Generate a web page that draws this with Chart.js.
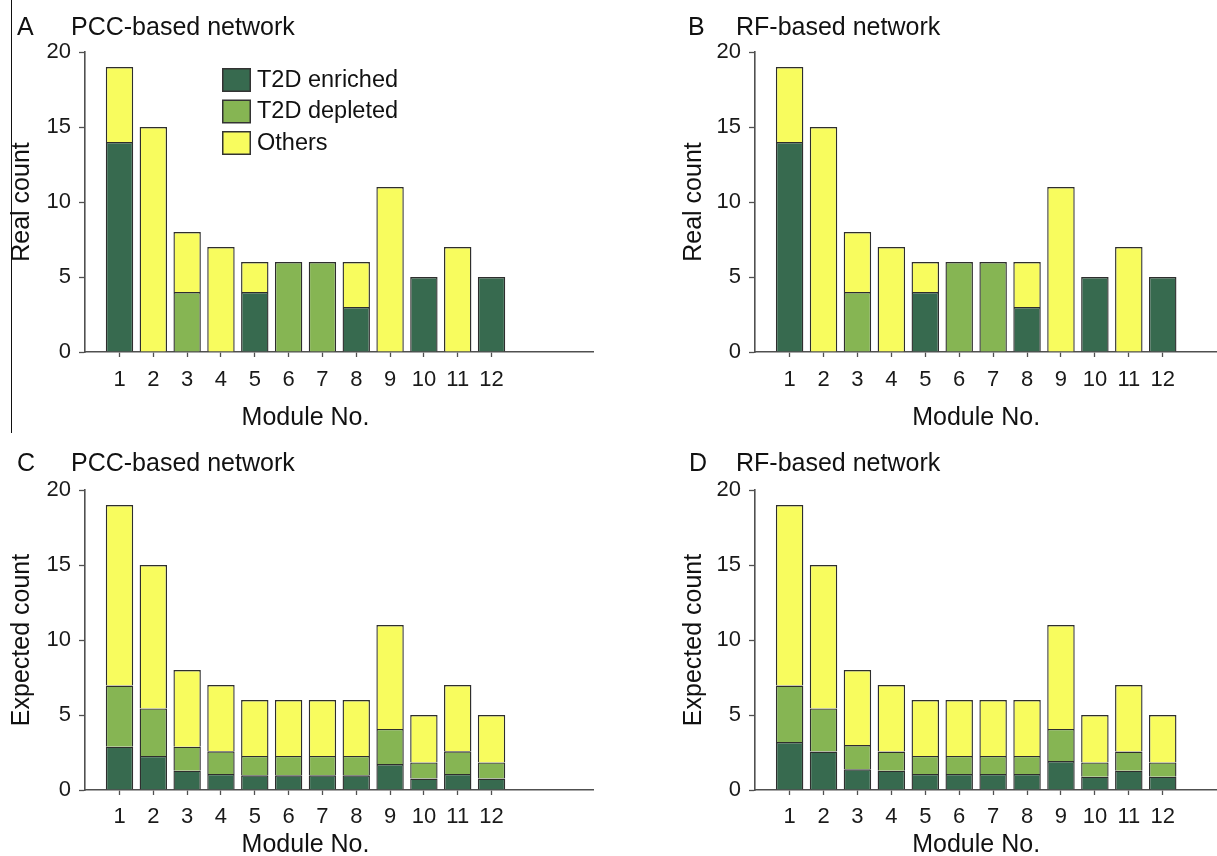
<!DOCTYPE html>
<html>
<head>
<meta charset="utf-8">
<script src="https://cdn.jsdelivr.net/npm/chart.js@4.4.1/dist/chart.umd.min.js"></script>
<style>
  html, body { margin: 0; padding: 0; background: #fff; overflow: hidden; }
  #wrap { position: relative; width: 1217px; height: 856px; }
  .panel { position: absolute; }
  .edge { position: absolute; left: 11px; top: 0; width: 1px; height: 433px; background: #111; }
</style>
</head>
<body>
<div id="wrap">
  <div class="edge"></div>
  <div class="panel" style="left:0;top:0;width:610px;height:430px"><canvas id="chartA"></canvas></div>
  <div class="panel" style="left:610px;top:0;width:607px;height:430px"><canvas id="chartB"></canvas></div>
  <div class="panel" style="left:0;top:430px;width:610px;height:426px"><canvas id="chartC"></canvas></div>
  <div class="panel" style="left:610px;top:430px;width:607px;height:426px"><canvas id="chartD"></canvas></div>
</div>
<script>
// data
const modules = [1, 2, 3, 4, 5, 6, 7, 8, 9, 10, 11, 12];
const yTicks = [0, 5, 10, 15, 20];
const seriesNames = ['T2D enriched', 'T2D depleted', 'Others'];

// A: PCC real
const pccRealEnriched = [14, 0, 0, 0, 4, 0, 0, 3, 0, 5, 0, 5];
const pccRealDepleted = [0, 0, 4, 0, 0, 6, 6, 0, 0, 0, 0, 0];
const pccRealOthers = [5, 15, 4, 7, 2, 0, 0, 3, 11, 0, 7, 0];

// B: RF real
const rfRealEnriched = [14, 0, 0, 0, 4, 0, 0, 3, 0, 5, 0, 5];
const rfRealDepleted = [0, 0, 4, 0, 0, 6, 6, 0, 0, 0, 0, 0];
const rfRealOthers = [5, 15, 4, 7, 2, 0, 0, 3, 11, 0, 7, 0];

// C: PCC expected
const pccExpEnriched = [2.89, 2.27, 1.29, 1.07, 0.98, 0.98, 0.98, 0.98, 1.73, 0.76, 1.07, 0.76];
const pccExpDepleted = [4.07, 3.17, 1.6, 1.51, 1.29, 1.29, 1.29, 1.29, 2.34, 1.08, 1.51, 1.08];
const pccExpOthers = [12.04, 9.56, 5.11, 4.42, 3.73, 3.73, 3.73, 3.73, 6.93, 3.16, 4.42, 3.16];

// D: RF expected
const rfExpEnriched = [3.2, 2.56, 1.38, 1.29, 1.07, 1.07, 1.07, 1.07, 1.93, 0.89, 1.29, 0.89];
const rfExpDepleted = [3.76, 2.88, 1.62, 1.27, 1.2, 1.2, 1.2, 1.2, 2.14, 0.95, 1.27, 0.95];
const rfExpOthers = [12.04, 9.56, 5.0, 4.44, 3.73, 3.73, 3.73, 3.73, 6.93, 3.16, 4.44, 3.16];

const colors = ['#376a4f', '#86b553', '#f8fc5e'];
const FONT = '"Liberation Sans", Arial, Helvetica, sans-serif';
const AXIS = '#505050';

// panel letter, title, x title and legend
const panelText = {
  id: 'panelText',
  afterDraw(chart, args, opts) {
    const ctx = chart.ctx;
    const area = chart.chartArea;
    const x = chart.scales.x;
    ctx.save();
    ctx.fillStyle = '#111';
    ctx.textBaseline = 'middle';
    ctx.textAlign = 'left';
    ctx.font = '25px ' + FONT;
    ctx.fillText(opts.letter, opts.letterX, opts.titleY);
    ctx.fillText(opts.title, opts.titleX, opts.titleY);

    ctx.textAlign = 'center';
    ctx.font = '25px ' + FONT;
    const mid = (x.getPixelForValue(modules[0]) + x.getPixelForValue(modules[modules.length - 1])) / 2;
    ctx.fillText('Module No.', mid, area.bottom + opts.xTitleGap);

    if (opts.legend) {
      ctx.textAlign = 'left';
      ctx.font = '23.5px ' + FONT;
      chart.data.datasets.forEach((ds, i) => {
        const bx = area.left + 137;
        const by = area.top + 16 + i * 31.5;
        ctx.fillStyle = '#333';
        ctx.fillRect(bx, by, 29, 24);
        ctx.fillStyle = ds.backgroundColor;
        ctx.fillRect(bx + 1.5, by + 1.5, 26, 21);
        ctx.fillStyle = '#111';
        ctx.fillText(ds.label, bx + 35, by + 12.5);
      });
    }
    ctx.restore();
  }
};

function makePanel(id, enriched, depleted, others, cfg) {
  const ctx = document.getElementById(id).getContext('2d');
  const series = [enriched, depleted, others];
  return new Chart(ctx, {
    type: 'bar',
    data: {
      labels: modules,
      datasets: series.map((values, i) => ({
        label: seriesNames[i],
        data: values,
        backgroundColor: colors[i],
        borderColor: '#2e2e2e',
        borderWidth: (c) => (c.raw === 0 ? 0 : 1.4),
        borderSkipped: 'start',
        barPercentage: 0.81,
        categoryPercentage: 1
      }))
    },
    options: {
      responsive: true,
      maintainAspectRatio: false,
      animation: false,
      layout: { padding: { top: cfg.top, right: cfg.right, left: 0, bottom: 0 } },
      plugins: {
        legend: { display: false },
        tooltip: { enabled: false },
        panelText: {
          letter: cfg.letter, title: cfg.title, letterX: cfg.letterX, titleX: cfg.titleX,
          titleY: cfg.titleY, xTitleGap: cfg.xTitleGap, legend: cfg.legend
        }
      },
      scales: {
        x: {
          type: 'linear',
          stacked: true,
          offset: false,
          min: -0.02,
          max: cfg.xMax,
          afterBuildTicks: (scale) => { scale.ticks = modules.map(v => ({ value: v })); },
          afterFit: (scale) => { scale.height = cfg.xHeight; },
          grid: { offset: false, drawOnChartArea: false, drawTicks: true, tickLength: 5, tickColor: AXIS, tickWidth: 1.3 },
          border: { display: true, color: AXIS, width: 1.6 },
          ticks: { padding: cfg.xPad, color: '#1a1a1a', font: { family: FONT, size: 22 }, maxRotation: 0, autoSkip: false }
        },
        y: {
          stacked: true,
          min: 0,
          max: 20,
          afterBuildTicks: (scale) => { scale.ticks = yTicks.map(v => ({ value: v })); },
          afterFit: (scale) => { scale.width = cfg.yWidth; },
          grid: { drawOnChartArea: false, drawTicks: true, tickLength: 6, tickColor: AXIS, tickWidth: 1.3 },
          border: { display: true, color: AXIS, width: 1.6 },
          ticks: { padding: 8, color: '#1a1a1a', font: { family: FONT, size: 22 } },
          title: {
            display: true, text: cfg.yTitle, color: '#111',
            font: { family: FONT, size: 25 },
            padding: { top: cfg.yTitlePad, bottom: 0 }
          }
        }
      }
    },
    plugins: [panelText]
  });
}

makePanel('chartA', pccRealEnriched, pccRealDepleted, pccRealOthers, {
  letter: 'A', title: 'PCC-based network', letterX: 17, titleX: 71, titleY: 28,
  top: 52, right: 17, xHeight: 78, xPad: 10, xMax: 15, yWidth: 85,
  yTitle: 'Real count', yTitlePad: 7, xTitleGap: 66, legend: true
});
makePanel('chartB', rfRealEnriched, rfRealDepleted, rfRealOthers, {
  letter: 'B', title: 'RF-based network', letterX: 78, titleX: 126, titleY: 28,
  top: 52, right: 0, xHeight: 78, xPad: 10, xMax: 13.6, yWidth: 145,
  yTitle: 'Real count', yTitlePad: 69, xTitleGap: 66, legend: false
});
makePanel('chartC', pccExpEnriched, pccExpDepleted, pccExpOthers, {
  letter: 'C', title: 'PCC-based network', letterX: 17, titleX: 71, titleY: 34,
  top: 60, right: 17, xHeight: 66, xPad: 9, xMax: 15, yWidth: 85,
  yTitle: 'Expected count', yTitlePad: 7, xTitleGap: 55, legend: false
});
makePanel('chartD', rfExpEnriched, rfExpDepleted, rfExpOthers, {
  letter: 'D', title: 'RF-based network', letterX: 79, titleX: 126, titleY: 34,
  top: 60, right: 0, xHeight: 66, xPad: 9, xMax: 13.6, yWidth: 145,
  yTitle: 'Expected count', yTitlePad: 69, xTitleGap: 55, legend: false
});
</script>
</body>
</html>
